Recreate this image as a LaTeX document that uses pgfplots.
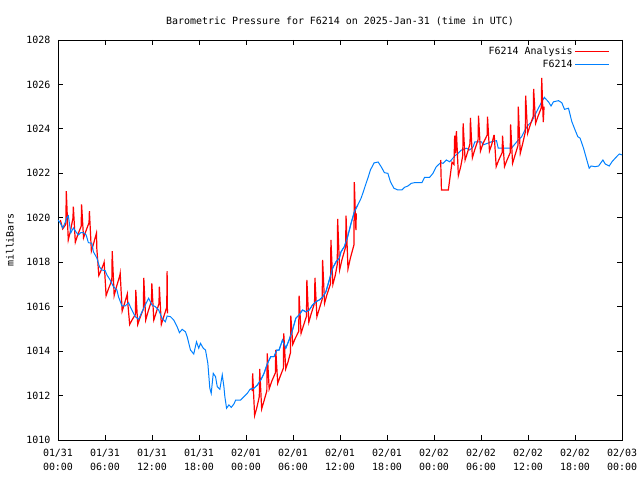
\documentclass[border=0pt]{standalone}
\usepackage{fontspec}
\setmainfont{DejaVu Sans Mono}
\usepackage{pgfplots}
\pgfplotsset{compat=1.18}
\definecolor{gred}{RGB}{255,0,0}
\definecolor{gblue}{RGB}{0,128,255}
\begin{document}
\fontsize{10}{12}\selectfont
\begin{tikzpicture}
\path[use as bounding box] (-58bp,-40bp) rectangle (582bp,440bp);
\begin{axis}[
  scale only axis, width=564bp, height=400bp,
  anchor=south west, at={(0,0)},
  xmin=0, xmax=72, ymin=1010, ymax=1028,
  xtick={0,6,...,72},
  xticklabels={{01/31\\00:00},{01/31\\06:00},{01/31\\12:00},{01/31\\18:00},{02/01\\00:00},{02/01\\06:00},{02/01\\12:00},{02/01\\18:00},{02/02\\00:00},{02/02\\06:00},{02/02\\12:00},{02/02\\18:00},{02/03\\00:00}},
  xticklabel style={align=center, font=\fontsize{10}{14}\selectfont, yshift=-6bp},
  yticklabel style={xshift=-4bp},
  ytick={1010,1012,...,1028},
  yticklabels={1010,1012,1014,1016,1018,1020,1022,1024,1026,1028},
  /pgf/number format/assume math mode=true,
  major tick length=5bp,
  tick style={black, line width=0.8bp},
  axis line style={line width=0.8bp},
  title={Barometric Pressure for F6214 on 2025-Jan-31 (time in UTC)},
  title style={at={(0.5,1)}, anchor=base, yshift=10bp},
  ylabel={milliBars},
  ylabel style={at={(rel axis cs:0,0.5)}, anchor=center, yshift=48bp},
  legend plot pos=right,
  legend cell align=right,
  legend image code/.code={\draw[#1] (0bp,0bp) -- (34bp,0bp);},
  legend style={at={(1,1)}, anchor=north east, xshift=-11bp, yshift=-4bp, draw=none, fill=none, row sep=0bp, inner sep=1bp},
]
\addplot[gred, line width=1.2bp] coordinates {
(0.3,1019.9)(0.6,1019.5)(1.0,1019.7)
(1.06,1021.2)(1.31,1019.0)(1.61,1019.44)(1.91,1019.99)
(1.96,1020.5)(2.21,1018.9)(2.51,1019.22)(2.96,1019.62)
(3.01,1020.6)(3.26,1019.1)(3.56,1019.4)(3.96,1019.78)
(4.01,1020.3)(4.26,1018.5)(4.56,1018.86)(4.91,1019.31)
(4.96,1018.6)(5.21,1017.4)(5.51,1017.64)(5.84,1017.94)
(5.89,1018.0)(6.14,1016.5)(6.44,1016.8)(6.87,1017.18)
(6.92,1018.5)(7.17,1016.5)(7.47,1016.9)(7.89,1017.4)
(7.94,1017.5)(8.19,1015.8)(8.49,1016.14)(8.85,1016.57)
(8.90,1016.2)(9.15,1015.2)(9.45,1015.4)(9.88,1015.65)
(9.93,1016.75)(10.18,1015.2)(10.48,1015.51)(10.90,1015.9)
(10.95,1017.3)(11.2,1015.4)(11.5,1015.78)(11.93,1016.26)
(11.98,1017.05)(12.23,1015.4)(12.53,1015.73)(12.89,1016.14)
(12.94,1016.9)(13.19,1015.2)(13.49,1015.54)(13.88,1015.97)
(13.93,1017.6)(13.97,1015.7)
};
\addlegendentry{F6214 Analysis}
\addplot[gblue, line width=1bp] coordinates {
(0.0,1019.9)(0.26,1019.78)(0.60,1019.54)(0.90,1019.77)(1.11,1019.99)(1.32,1020.09)(1.45,1019.77)(1.63,1019.32)(1.96,1019.54)(2.31,1019.36)(2.60,1019.23)(2.91,1019.33)(3.24,1019.33)(3.59,1019.23)(3.88,1018.88)(4.32,1018.85)(4.52,1018.47)(4.96,1018.19)(5.29,1017.80)(5.60,1017.65)(6.02,1017.62)(6.24,1017.43)(6.66,1017.20)(7.08,1016.90)(7.52,1016.75)(7.72,1016.45)(8.16,1016.03)(8.58,1016.03)(9.01,1016.18)(9.31,1015.93)(9.86,1015.55)(10.29,1015.43)(10.72,1015.77)(11.15,1016.08)(11.57,1016.38)(12.00,1016.08)(12.43,1016.00)(12.85,1015.85)(13.28,1015.48)(13.71,1015.32)(13.93,1015.58)(14.35,1015.55)(14.77,1015.40)(15.21,1015.10)(15.50,1014.83)(15.85,1014.98)(16.27,1014.87)(16.49,1014.65)(16.91,1014.05)(17.33,1013.87)(17.68,1014.42)(17.97,1014.13)(18.19,1014.35)(18.54,1014.13)(18.83,1014.05)(19.13,1013.45)(19.38,1012.33)(19.56,1012.10)(19.82,1013.00)(20.11,1012.85)(20.33,1012.40)(20.66,1012.28)(20.97,1012.93)(21.18,1012.40)(21.30,1011.95)(21.52,1011.43)(21.82,1011.58)(22.12,1011.47)(22.46,1011.62)(22.68,1011.80)(23.32,1011.80)(23.74,1011.95)(24.17,1012.10)(24.51,1012.28)(25.02,1012.33)(25.46,1012.48)(25.88,1012.70)(26.30,1013.00)(26.74,1013.45)(27.16,1013.75)(27.58,1013.75)(27.93,1014.05)(28.22,1014.05)(28.66,1014.50)(29.08,1014.13)(29.50,1014.50)(29.94,1014.95)(30.36,1015.48)(30.78,1015.63)(31.22,1015.85)(31.64,1015.77)(32.07,1015.85)(32.50,1016.08)(32.92,1016.22)(33.35,1016.30)(33.78,1016.43)(34.20,1016.67)(34.63,1017.20)(35.06,1017.73)(35.49,1018.02)(35.91,1018.18)(36.13,1018.47)(36.55,1018.70)(36.98,1019.15)(37.41,1019.75)(37.83,1020.27)(38.27,1020.58)(38.69,1020.88)(38.91,1021.10)(39.33,1021.55)(39.62,1021.85)(39.88,1022.15)(40.35,1022.47)(40.87,1022.51)(41.25,1022.30)(41.67,1022.03)(42.11,1022.00)(42.44,1021.62)(42.88,1021.33)(43.39,1021.25)(43.90,1021.25)(44.24,1021.37)(44.67,1021.43)(45.09,1021.55)(45.52,1021.58)(46.46,1021.58)(46.80,1021.82)(47.44,1021.82)(47.87,1022.00)(48.30,1022.30)(48.85,1022.48)(49.16,1022.45)(49.58,1022.60)(50.00,1022.52)(50.22,1022.60)(50.64,1022.78)(51.08,1022.90)(51.50,1023.05)(52.14,1023.13)(52.56,1023.05)(53.00,1023.20)(53.21,1023.42)(54.06,1023.42)(54.28,1023.28)(55.35,1023.42)(55.98,1023.47)(56.20,1023.13)(57.90,1023.13)(58.12,1023.23)(58.76,1023.50)(59.19,1023.65)(59.61,1023.95)(60.04,1024.18)(60.47,1024.33)(60.89,1024.63)(61.33,1024.93)(61.75,1025.22)(62.09,1025.42)(62.39,1025.30)(62.61,1025.22)(62.94,1025.03)(63.25,1025.22)(63.89,1025.27)(64.31,1025.18)(64.66,1024.88)(65.17,1024.93)(65.59,1024.33)(66.01,1023.95)(66.36,1023.65)(66.65,1023.58)(67.09,1023.13)(67.51,1022.60)(67.81,1022.23)(68.06,1022.33)(68.58,1022.30)(69.01,1022.33)(69.56,1022.60)(69.86,1022.42)(70.37,1022.33)(70.72,1022.52)(71.23,1022.72)(71.65,1022.87)(72.0,1022.83)
};
\addlegendentry{F6214}
\addplot[gred, line width=1.2bp, forget plot] coordinates {
(24.8,1012.2)
(24.85,1013.0)(25.1,1011.1)(25.4,1011.48)(25.7,1011.96)
(25.75,1013.2)(26.0,1011.4)(26.3,1011.76)(26.66,1012.21)
(26.71,1013.9)(26.96,1012.3)(27.26,1012.62)(27.75,1013.02)
(27.8,1014.05)(28.05,1012.55)(28.35,1012.85)(28.77,1013.23)
(28.82,1014.8)(29.07,1013.2)(29.37,1013.52)(29.67,1013.92)
(29.72,1015.6)(29.97,1014.3)(30.27,1014.56)(30.73,1014.89)
(30.78,1016.5)(31.03,1014.8)(31.33,1015.14)(31.72,1015.57)
(31.77,1017.2)(32.02,1015.3)(32.32,1015.68)(32.75,1016.16)
(32.8,1017.3)(33.05,1015.55)(33.35,1015.9)(33.73,1016.34)
(33.78,1018.1)(34.03,1016.15)(34.33,1016.54)(34.79,1017.03)
(34.84,1019.0)(35.09,1017.0)(35.39,1017.4)(35.65,1017.9)
(35.7,1019.95)(35.95,1017.65)(36.25,1018.11)(36.72,1018.69)
(36.77,1020.1)(37.02,1017.7)(37.32,1018.18)(37.78,1018.78)
(37.83,1021.6)(38.03,1019.45)(38.08,1020.2)
};
\addplot[gred, line width=1.2bp, forget plot] coordinates {
(48.85,1022.6)(48.95,1021.25)(49.83,1021.25)(50.0,1021.7)(50.3,1022.5)(50.55,1022.4)(50.64,1023.7)(50.75,1022.9)
(50.86,1023.9)(51.11,1021.9)(51.41,1022.3)(51.67,1022.8)
(51.72,1024.25)(51.97,1022.6)(52.27,1022.93)(52.6,1023.34)
(52.65,1024.5)(52.9,1022.7)(53.2,1023.06)(53.63,1023.51)
(53.68,1024.6)(53.93,1023.0)(54.23,1023.32)(54.78,1023.72)
(54.83,1024.55)(55.08,1023.0)(55.38,1023.31)(55.64,1023.7)
(55.69,1023.7)(55.94,1022.3)(56.24,1022.58)(56.7,1022.93)
(56.75,1023.7)(57.0,1022.3)(57.3,1022.58)(57.73,1022.93)
(57.78,1024.2)(58.03,1022.45)(58.33,1022.8)(58.71,1023.24)
(58.76,1025.0)(59.01,1022.9)(59.31,1023.32)(59.65,1023.85)
(59.7,1025.5)(59.95,1023.8)(60.25,1024.14)(60.67,1024.57)
(60.72,1025.8)(60.97,1024.25)(61.27,1024.56)(61.7,1024.95)
(61.75,1026.3)(61.95,1024.3)(62.05,1025.0)
};
\addplot[gblue, line width=1bp, forget plot] coordinates {
(24.51,1012.28)(25.02,1012.33)(25.46,1012.48)(25.88,1012.70)(26.30,1013.00)(26.74,1013.45)(27.16,1013.75)(27.58,1013.75)(27.93,1014.05)(28.22,1014.05)(28.66,1014.50)(29.08,1014.13)(29.50,1014.50)(29.94,1014.95)(30.36,1015.48)(30.78,1015.63)(31.22,1015.85)(31.64,1015.77)(32.07,1015.85)(32.50,1016.08)(32.92,1016.22)(33.35,1016.30)(33.78,1016.43)(34.20,1016.67)(34.63,1017.20)(35.06,1017.73)(35.49,1018.02)(35.91,1018.18)(36.13,1018.47)(36.55,1018.70)(36.98,1019.15)(37.41,1019.75)(37.83,1020.27)(38.27,1020.58)
};
\end{axis}
\end{tikzpicture}
\end{document}
